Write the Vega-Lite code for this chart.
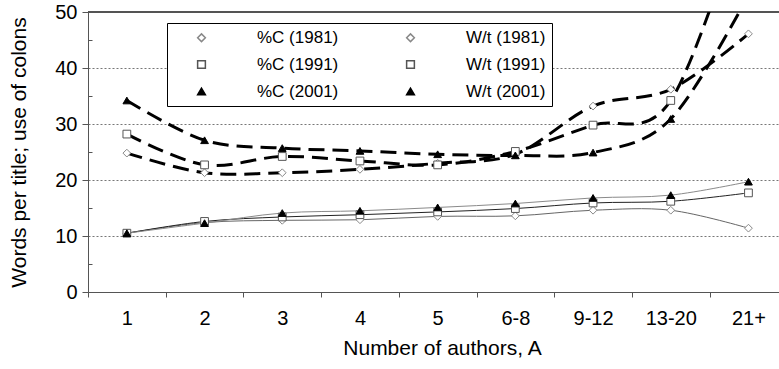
{
  "$schema": "https://vega.github.io/schema/vega-lite/v6.json",
  "autosize": {"type": "none"},
  "padding": {"left": 88, "top": 12, "right": 0, "bottom": 77},
  "width": 691,
  "height": 280,
  "background": "white",
  "config": {"font": "Liberation Sans", "view": {"stroke": null}},
  "data": {"values": [
    {"i": 1, "A": "1", "s": "%C (1981)", "v": 24.8},
    {"i": 2, "A": "2", "s": "%C (1981)", "v": 21.3},
    {"i": 3, "A": "3", "s": "%C (1981)", "v": 21.3},
    {"i": 4, "A": "4", "s": "%C (1981)", "v": 21.9},
    {"i": 5, "A": "5", "s": "%C (1981)", "v": 23.0},
    {"i": 6, "A": "6-8", "s": "%C (1981)", "v": 24.6},
    {"i": 7, "A": "9-12", "s": "%C (1981)", "v": 33.2},
    {"i": 8, "A": "13-20", "s": "%C (1981)", "v": 36.2},
    {"i": 9, "A": "21+", "s": "%C (1981)", "v": 46.1},
    {"i": 1, "A": "1", "s": "%C (1991)", "v": 28.2},
    {"i": 2, "A": "2", "s": "%C (1991)", "v": 22.7},
    {"i": 3, "A": "3", "s": "%C (1991)", "v": 24.2},
    {"i": 4, "A": "4", "s": "%C (1991)", "v": 23.4},
    {"i": 5, "A": "5", "s": "%C (1991)", "v": 22.7},
    {"i": 6, "A": "6-8", "s": "%C (1991)", "v": 25.1},
    {"i": 7, "A": "9-12", "s": "%C (1991)", "v": 29.8},
    {"i": 8, "A": "13-20", "s": "%C (1991)", "v": 34.2},
    {"i": 9, "A": "21+", "s": "%C (1991)", "v": 71},
    {"i": 1, "A": "1", "s": "%C (2001)", "v": 34.2},
    {"i": 2, "A": "2", "s": "%C (2001)", "v": 27.1},
    {"i": 3, "A": "3", "s": "%C (2001)", "v": 25.7},
    {"i": 4, "A": "4", "s": "%C (2001)", "v": 25.2},
    {"i": 5, "A": "5", "s": "%C (2001)", "v": 24.6},
    {"i": 6, "A": "6-8", "s": "%C (2001)", "v": 24.4},
    {"i": 7, "A": "9-12", "s": "%C (2001)", "v": 24.9},
    {"i": 8, "A": "13-20", "s": "%C (2001)", "v": 30.9},
    {"i": 9, "A": "21+", "s": "%C (2001)", "v": 53},
    {"i": 1, "A": "1", "s": "W/t (1981)", "v": 10.5},
    {"i": 2, "A": "2", "s": "W/t (1981)", "v": 12.4},
    {"i": 3, "A": "3", "s": "W/t (1981)", "v": 12.8},
    {"i": 4, "A": "4", "s": "W/t (1981)", "v": 12.9},
    {"i": 5, "A": "5", "s": "W/t (1981)", "v": 13.5},
    {"i": 6, "A": "6-8", "s": "W/t (1981)", "v": 13.6},
    {"i": 7, "A": "9-12", "s": "W/t (1981)", "v": 14.6},
    {"i": 8, "A": "13-20", "s": "W/t (1981)", "v": 14.6},
    {"i": 9, "A": "21+", "s": "W/t (1981)", "v": 11.4},
    {"i": 1, "A": "1", "s": "W/t (1991)", "v": 10.5},
    {"i": 2, "A": "2", "s": "W/t (1991)", "v": 12.6},
    {"i": 3, "A": "3", "s": "W/t (1991)", "v": 13.4},
    {"i": 4, "A": "4", "s": "W/t (1991)", "v": 13.8},
    {"i": 5, "A": "5", "s": "W/t (1991)", "v": 14.3},
    {"i": 6, "A": "6-8", "s": "W/t (1991)", "v": 14.9},
    {"i": 7, "A": "9-12", "s": "W/t (1991)", "v": 15.9},
    {"i": 8, "A": "13-20", "s": "W/t (1991)", "v": 16.2},
    {"i": 9, "A": "21+", "s": "W/t (1991)", "v": 17.7},
    {"i": 1, "A": "1", "s": "W/t (2001)", "v": 10.5},
    {"i": 2, "A": "2", "s": "W/t (2001)", "v": 12.3},
    {"i": 3, "A": "3", "s": "W/t (2001)", "v": 14.1},
    {"i": 4, "A": "4", "s": "W/t (2001)", "v": 14.5},
    {"i": 5, "A": "5", "s": "W/t (2001)", "v": 15.1},
    {"i": 6, "A": "6-8", "s": "W/t (2001)", "v": 15.8},
    {"i": 7, "A": "9-12", "s": "W/t (2001)", "v": 16.8},
    {"i": 8, "A": "13-20", "s": "W/t (2001)", "v": 17.3},
    {"i": 9, "A": "21+", "s": "W/t (2001)", "v": 19.7}
  ]},
  "resolve": {"scale": {"x": "shared", "y": "shared"}, "axis": {"x": "independent", "y": "independent"}},
  "layer": [
    {
      "mark": {"type": "rule", "color": "#555", "strokeWidth": 1},
      "encoding": {"y": {"datum": 50, "type": "quantitative", "axis": null}}
    },
    {
      "transform": [{"filter": "indexof(datum.s, 'W/t') === 0"}],
      "mark": {"type": "line", "interpolate": "cardinal", "strokeWidth": 1, "clip": true},
      "encoding": {
        "x": {"field": "i", "type": "quantitative", "scale": {"domain": [0.5, 9.393], "nice": false, "zero": false},
          "axis": {"orient": "bottom", "values": [1, 2, 3, 4, 5, 6, 7, 8, 9], "labelExpr": "['1','2','3','4','5','6-8','9-12','13-20','21+'][datum.value-1]",
            "ticks": false, "domain": true, "domainColor": "#555", "grid": false, "labelFontSize": 20, "labelColor": "black", "labelPadding": 16,
            "title": "Number of authors, A", "titleFontSize": 21, "titleFontWeight": "normal", "titleColor": "black", "titlePadding": 9, "titleX": 354}},
        "y": {"field": "v", "type": "quantitative", "scale": {"domain": [0, 50], "nice": false},
          "axis": {"orient": "left", "values": [0, 10, 20, 30, 40, 50], "tickSize": 6, "tickColor": "#555", "domainColor": "#555",
            "grid": true, "gridColor": "#777", "gridDash": [2, 2], "gridWidth": 1,
            "labelFontSize": 20, "labelColor": "black", "labelPadding": 5,
            "title": "Words per title; use of colons", "titleFontSize": 21, "titleFontWeight": "normal", "titleColor": "black", "titlePadding": 25}},
        "detail": {"field": "s"},
        "color": {"field": "s", "type": "nominal", "legend": null,
          "scale": {"domain": ["W/t (1981)", "W/t (1991)", "W/t (2001)"], "range": ["#666666", "#222222", "#8a8a8a"]}}
      }
    },
    {
      "transform": [{"filter": "indexof(datum.s, '%C') === 0"}],
      "mark": {"type": "line", "interpolate": "cardinal", "strokeWidth": 3, "strokeDash": [16, 8], "color": "black", "clip": true},
      "encoding": {
        "x": {"field": "i", "type": "quantitative", "axis": null},
        "y": {"field": "v", "type": "quantitative", "axis": null},
        "detail": {"field": "s"}
      }
    },
    {
      "mark": {"type": "point", "filled": false, "strokeWidth": 1, "opacity": 1, "size": 60, "clip": true},
      "encoding": {
        "x": {"field": "i", "type": "quantitative",
          "axis": {"orient": "bottom", "values": [0.5, 1.5, 2.5, 3.5, 4.5, 5.5, 6.5, 7.5, 8.5], "labels": false, "domain": false, "grid": false,
            "tickSize": 5, "tickColor": "#555", "title": null}},
        "y": {"field": "v", "type": "quantitative",
          "axis": {"orient": "left", "values": [5, 15, 25, 35, 45], "labels": false, "domain": false, "grid": false,
            "tickSize": -4, "tickColor": "#555", "title": null}},
        "shape": {"field": "s", "type": "nominal",
          "scale": {"domain": ["%C (1981)", "%C (1991)", "%C (2001)", "W/t (1981)", "W/t (1991)", "W/t (2001)"],
            "range": ["diamond", "square", "triangle-up", "diamond", "square", "triangle-up"]}},
        "fill": {"field": "s", "type": "nominal",
          "scale": {"domain": ["%C (1981)", "%C (1991)", "%C (2001)", "W/t (1981)", "W/t (1991)", "W/t (2001)"],
            "range": ["white", "white", "black", "white", "white", "black"]},
          "legend": {"orient": "none", "legendX": 79, "legendY": 11, "columns": 2, "title": null,
            "padding": 6, "rowPadding": 9, "columnPadding": 43, "strokeColor": "black", "fillColor": "white",
            "symbolSize": 60, "symbolOffset": 20, "labelOffset": 47, "labelFontSize": 17, "labelColor": "black", "labelLimit": 200}},
        "stroke": {"field": "s", "type": "nominal",
          "scale": {"domain": ["%C (1981)", "%C (1991)", "%C (2001)", "W/t (1981)", "W/t (1991)", "W/t (2001)"],
            "range": ["#888888", "#555555", "black", "#888888", "#555555", "black"]}}
      }
    }
  ]
}
